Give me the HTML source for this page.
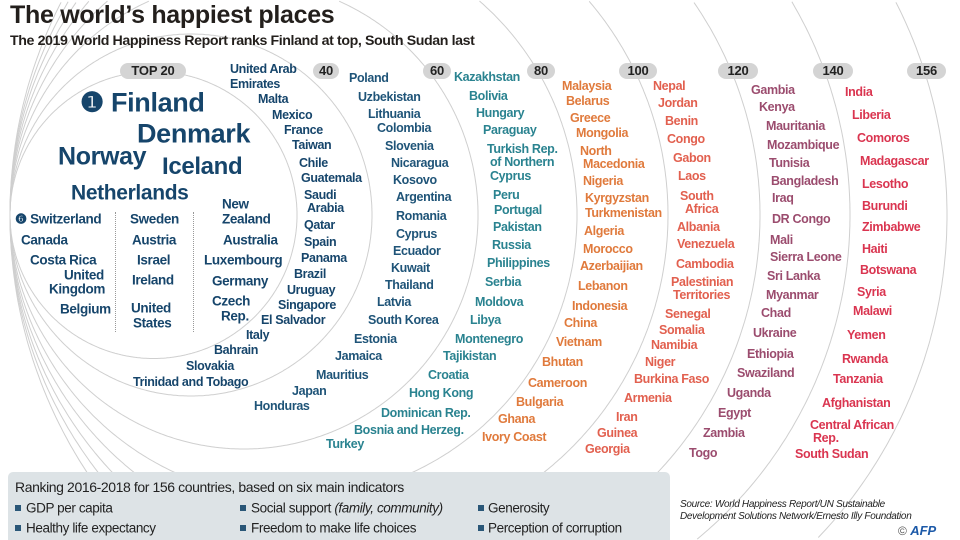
<!DOCTYPE html>
<html><head><meta charset="utf-8">
<style>
body{margin:0;background:#fff;overflow:hidden}
#root{position:relative;width:960px;height:540px;overflow:hidden;background:#fff;font-family:"Liberation Sans",sans-serif}
.t{position:absolute;white-space:nowrap;font-weight:bold;font-size:12.5px;letter-spacing:-0.35px;transform:translateY(-50%);line-height:1}
.pill{position:absolute;top:63px;height:16px;border-radius:8px;background:#d4d4d4;color:#222;font-weight:bold;font-size:13px;line-height:16px;text-align:center;letter-spacing:-0.2px}
.leg{position:absolute;font-size:13.5px;color:#222;letter-spacing:-0.4px;white-space:nowrap;transform:translateY(-50%)}
.sq{position:absolute;width:6px;height:6px;background:#2a5778;transform:translateY(-50%)}
</style></head><body>
<div id="root">
<svg id="arcs" width="960" height="540" style="position:absolute;left:0;top:0;overflow:hidden"></svg>
<div style="position:absolute;left:10px;top:1px;font-size:25px;font-weight:bold;color:#231f1c;letter-spacing:-0.3px">The world’s happiest places</div>
<div style="position:absolute;left:10px;top:33px;font-size:14.2px;font-weight:bold;color:#231f1c;letter-spacing:-0.4px">The 2019 World Happiness Report ranks Finland at top, South Sudan last</div>
<div id="pills"></div>
<div id="labels"></div>
<div style="position:absolute;left:115px;top:212px;height:120px;border-left:1px dotted #999"></div>
<div style="position:absolute;left:193px;top:212px;height:120px;border-left:1px dotted #999"></div>
<div style="position:absolute;left:8px;top:472px;width:662px;height:68px;background:#dde3e6;border-radius:5px 5px 0 0"></div>
<div class="leg" style="left:15px;top:487px;font-size:14px">Ranking 2016-2018 for 156 countries, based on six main indicators</div>
<div class="sq" style="left:15px;top:508px"></div><div class="leg" style="left:26px;top:508px">GDP per capita</div>
<div class="sq" style="left:15px;top:528px"></div><div class="leg" style="left:26px;top:528px">Healthy life expectancy</div>
<div class="sq" style="left:240px;top:508px"></div><div class="leg" style="left:251px;top:508px">Social support <i>(family, community)</i></div>
<div class="sq" style="left:240px;top:528px"></div><div class="leg" style="left:251px;top:528px">Freedom to make life choices</div>
<div class="sq" style="left:478px;top:508px"></div><div class="leg" style="left:488px;top:508px">Generosity</div>
<div class="sq" style="left:478px;top:528px"></div><div class="leg" style="left:488px;top:528px">Perception of corruption</div>
<div style="position:absolute;left:680px;top:499px;font-size:10px;font-style:italic;color:#222;line-height:12px;letter-spacing:-0.3px">Source: World Happiness Report/UN Sustainable<br>Development Solutions Network/Ernesto Illy Foundation</div>
<div style="position:absolute;left:898px;top:523px;height:16px;font-size:12px;line-height:16px;color:#555">© <b style="color:#1d5aa8;font-style:italic;font-size:13px">AFP</b></div>
</div>
<script>
const rankBreaks=[20,40,60,80,100,120,140,156];
const arcRight=[297,372,478,577,668,760,850,947];
const pillX=[[120,66],[313,26],[423,28],[527,28],[619,38],[718,40],[813,40],[907,39]];
const svg=document.getElementById('arcs');
const NS='http://www.w3.org/2000/svg';
const leftX=10, cy=215;
for(let i=0;i<rankBreaks.length;i++){
  const r=(arcRight[i]-leftX)/2, cx=leftX+r;
  let d='', pen=false;
  for(let k=0;k<=720;k++){
    const a=k/720*2*Math.PI;
    const x=cx+r*Math.cos(a), y=cy+r*Math.sin(a);
    if(x>=0.5&&x<=959.5&&y>=0.5&&y<=539.5){
      d+=(pen?'L':'M')+x.toFixed(1)+' '+y.toFixed(1);
      pen=true;
    }else{pen=false;}
  }
  const c=document.createElementNS(NS,'path');
  
  
  c.setAttribute('d',d);
  c.setAttribute('fill','none');c.setAttribute('stroke','#cfcfcf');c.setAttribute('stroke-width','1');
  svg.appendChild(c);
}
const pills=document.getElementById('pills');
for(let i=0;i<rankBreaks.length;i++){
  const p=document.createElement('div');
  p.className='pill';
  
  
  p.style.left=pillX[i][0]+'px';p.style.width=pillX[i][1]+'px';
  p.textContent=i===0?'TOP 20':String(rankBreaks[i]);
  pills.appendChild(p);
}
const colors=['#16456b','#1f5478','#2a8390','#e07a3c','#e2604f','#9b4c6e','#da3550'];
const big=[['❶ Finland',80,103,27],['Denmark',137,134,27],['Norway',58,157,25],['Iceland',162,167,24],['Netherlands',71,193,21]];
const g0=[['❻ Switzerland',15,219],['Canada',21,240],['Costa Rica',30,260],['United',64,275],['Kingdom',49,289],['Belgium',60,309],['Sweden',130,219],['Austria',132,240],['Israel',137,260],['Ireland',132,280],['United',131,308],['States',133,323],['New',222,204],['Zealand',222,219],['Australia',223,240],['Luxembourg',204,260],['Germany',212,281],['Czech',212,301],['Rep.',221,316]];
const g1=[['United Arab',230,69],['Emirates',230,84],['Malta',258,99],['Mexico',272,115],['France',284,130],['Taiwan',292,145],['Chile',299,163],['Guatemala',301,178],['Saudi',304,195],['Arabia',307,208],['Qatar',304,225],['Spain',304,242],['Panama',301,258],['Brazil',294,274],['Uruguay',287,290],['Singapore',278,305],['El Salvador',261,320],['Italy',246,335],['Bahrain',214,350],['Slovakia',186,366],['Trinidad and Tobago',133,382]];
const g2=[['Poland',349,78],['Uzbekistan',358,97],['Lithuania',368,114],['Colombia',377,128],['Slovenia',385,146],['Nicaragua',391,163],['Kosovo',393,180],['Argentina',396,197],['Romania',396,216],['Cyprus',396,234],['Ecuador',393,251],['Kuwait',391,268],['Thailand',385,285],['Latvia',377,302],['South Korea',368,320],['Estonia',354,339],['Jamaica',335,356],['Mauritius',316,375],['Japan',292,391],['Honduras',254,406]];
const g3=[['Kazakhstan',454,77],['Bolivia',469,96],['Hungary',476,113],['Paraguay',483,130],['Turkish Rep.',487,149],['of Northern',490,162],['Cyprus',490,176],['Peru',493,195],['Portugal',494,210],['Pakistan',493,227],['Russia',492,245],['Philippines',487,263],['Serbia',485,282],['Moldova',475,302],['Libya',470,320],['Montenegro',455,339],['Tajikistan',443,356],['Croatia',428,375],['Hong Kong',409,393],['Dominican Rep.',381,413],['Bosnia and Herzeg.',354,430],['Turkey',326,444]];
const g4=[['Malaysia',562,86],['Belarus',566,101],['Greece',570,118],['Mongolia',576,133],['North',580,151],['Macedonia',583,164],['Nigeria',583,181],['Kyrgyzstan',585,198],['Turkmenistan',585,213],['Algeria',584,231],['Morocco',583,249],['Azerbaijian',580,266],['Lebanon',578,286],['Indonesia',572,306],['China',564,323],['Vietnam',556,342],['Bhutan',542,362],['Cameroon',528,383],['Bulgaria',516,402],['Ghana',498,419],['Ivory Coast',482,437]];
const g5=[['Nepal',653,86],['Jordan',658,103],['Benin',665,121],['Congo',667,139],['Gabon',673,158],['Laos',678,176],['South',680,196],['Africa',685,209],['Albania',677,227],['Venezuela',677,244],['Cambodia',676,264],['Palestinian',671,282],['Territories',673,295],['Senegal',665,314],['Somalia',659,330],['Namibia',651,345],['Niger',645,362],['Burkina Faso',634,379],['Armenia',624,398],['Iran',616,417],['Guinea',597,433],['Georgia',585,449]];
const g6=[['Gambia',751,90],['Kenya',759,107],['Mauritania',766,126],['Mozambique',767,145],['Tunisia',769,163],['Bangladesh',771,181],['Iraq',772,198],['DR Congo',772,219],['Mali',770,240],['Sierra Leone',770,257],['Sri Lanka',767,276],['Myanmar',766,295],['Chad',761,313],['Ukraine',753,333],['Ethiopia',747,354],['Swaziland',737,373],['Uganda',727,393],['Egypt',718,413],['Zambia',703,433],['Togo',689,453]];
const g7=[['India',845,92],['Liberia',852,115],['Comoros',857,138],['Madagascar',860,161],['Lesotho',862,184],['Burundi',862,206],['Zimbabwe',862,227],['Haiti',862,249],['Botswana',860,270],['Syria',857,292],['Malawi',853,311],['Yemen',847,335],['Rwanda',842,359],['Tanzania',833,379],['Afghanistan',822,403],['Central African',810,425],['Rep.',813,438],['South Sudan',795,454]];
const labels=document.getElementById('labels');
function put(item,color,size){
  const s=document.createElement('div');
  s.className='t';
  
  
  s.textContent=item[0];
  s.style.left=item[1]+'px';s.style.top=item[2]+'px';s.style.color=color;
  if(size){s.style.fontSize=size+'px';}
  labels.appendChild(s);
}
big.forEach(b=>put(b,colors[0],b[3]));
g0.forEach(b=>put(b,colors[0],13.5));
g1.forEach(b=>put(b,colors[0]));
g2.forEach(b=>put(b,colors[1]));
g3.forEach(b=>put(b,colors[2]));
g4.forEach(b=>put(b,colors[3]));
g5.forEach(b=>put(b,colors[4]));
g6.forEach(b=>put(b,colors[5]));
g7.forEach(b=>put(b,colors[6]));
</script>
</body></html>
